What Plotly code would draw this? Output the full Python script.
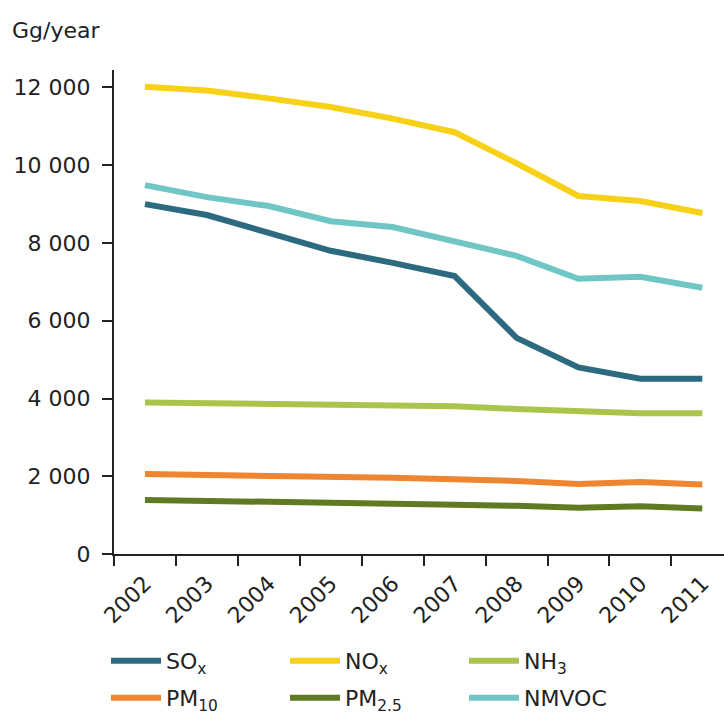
import plotly.graph_objects as go

years = ["2002", "2003", "2004", "2005", "2006", "2007", "2008", "2009", "2010", "2011"]
sox = [9000, 8720, 8260, 7800, 7490, 7150, 5560, 4800, 4510, 4510]
nox = [12020, 11920, 11720, 11500, 11200, 10850, 10050, 9210, 9080, 8770]
nh3 = [3900, 3880, 3850, 3820, 3810, 3800, 3730, 3690, 3620, 3620]
pm10 = [2060, 2040, 2030, 2000, 1960, 1920, 1880, 1800, 1850, 1790]
pm25 = [1390, 1370, 1360, 1330, 1300, 1270, 1240, 1190, 1230, 1170]
nmvoc = [9490, 9180, 8950, 8560, 8410, 8050, 7670, 7080, 7130, 6850]

series = [
    ("SO<sub>x</sub>", sox, "#2c6a7f", "legend"),
    ("NO<sub>x</sub>", nox, "#f7d117", "legend"),
    ("NH<sub>3</sub>", nh3, "#a9c54c", "legend"),
    ("PM<sub>10</sub>", pm10, "#ee8530", "legend2"),
    ("PM<sub>2.5</sub>", pm25, "#5f7a22", "legend2"),
    ("NMVOC", nmvoc, "#70c6c4", "legend2"),
]

FONT = "Verdana, DejaVu Sans, sans-serif"
TXT = "#222222"

fig = go.Figure()
for name, vals, col, lg in series:
    fig.add_trace(go.Scatter(x=years, y=vals, name=name, mode="lines", legend=lg,
                             line=dict(color=col, width=6)))

leg_common = dict(orientation="h", xanchor="left", yanchor="middle",
                  entrywidth=114, entrywidthmode="pixels", itemwidth=50,
                  font=dict(family=FONT, size=22, color=TXT),
                  traceorder="normal", bgcolor="rgba(0,0,0,0)")

fig.update_layout(
    width=724, height=716,
    margin=dict(l=114, r=0, t=70, b=162, autoexpand=False),
    paper_bgcolor="white", plot_bgcolor="white",
    separators=". ",
    font=dict(family=FONT, size=22, color=TXT),
    showlegend=True,
    legend=dict(x=(106 - 114) / 610, y=(554 - 661) / 484, **leg_common),
    legend2=dict(x=(106 - 114) / 610, y=(554 - 698) / 484, **leg_common),
    annotations=[dict(text="Gg/year", xref="paper", yref="paper", x=(10 - 114) / 610,
                      y=1 + 40 / 484, xanchor="left", yanchor="middle", showarrow=False,
                      font=dict(family=FONT, size=22, color=TXT))],
)
fig.update_xaxes(type="category", range=[-0.5, 9.35], tickson="boundaries",
                 automargin=False,
                 showline=True, linecolor=TXT, linewidth=2,
                 ticks="outside", ticklen=10, tickwidth=2, tickcolor=TXT,
                 tickangle=-45, showgrid=False, zeroline=False, ticklabelstandoff=6,
                 tickfont=dict(family=FONT, size=22, color=TXT))
fig.update_yaxes(range=[0, 12450], tickvals=[0, 2000, 4000, 6000, 8000, 10000, 12000],
                 automargin=False,
                 tickformat=",d", showline=True, linecolor=TXT, linewidth=2,
                 ticks="outside", ticklen=10, tickwidth=2, tickcolor=TXT,
                 showgrid=False, zeroline=False, ticklabelstandoff=7,
                 tickfont=dict(family=FONT, size=22, color=TXT))

fig.write_html("out.html", config={"displayModeBar": False},
               post_script="document.body.style.margin='0';")
